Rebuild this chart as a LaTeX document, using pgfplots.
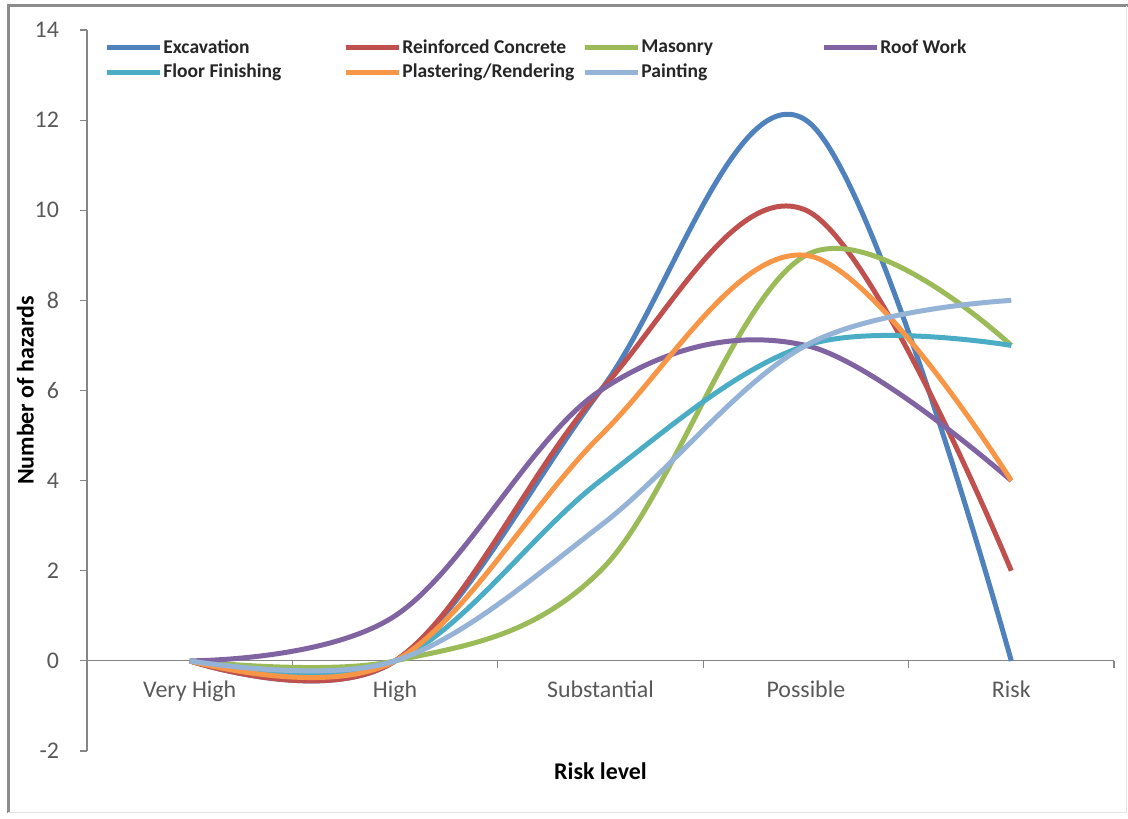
\documentclass[border=0pt]{standalone}
\usepackage{fontspec}
\setmainfont{Carlito}
\usepackage{pgfplots}
\pgfplotsset{compat=1.18}

% series colours
\definecolor{cExc}{HTML}{4F81BD}
\definecolor{cRC}{HTML}{C0504D}
\definecolor{cMas}{HTML}{9BBB59}
\definecolor{cRoof}{HTML}{8064A2}
\definecolor{cFloor}{HTML}{4BACC6}
\definecolor{cPlas}{HTML}{F79646}
\definecolor{cPaint}{HTML}{95B3D7}
\definecolor{axisgray}{HTML}{868686}
\definecolor{tickgray}{HTML}{595959}
\definecolor{framegray}{HTML}{8C8C8C}

\begin{document}
\begin{tikzpicture}
\useasboundingbox (0,0) rectangle (564bp,409.5bp);
% chart frame
\draw[line width=1.5bp, framegray] (4bp,3bp) -- (4bp,406.5bp) -- (564bp,406.5bp);
\draw[line width=0.5bp, gray!20] (563bp,406.5bp) -- (563bp,3bp) -- (4bp,3bp);

\begin{axis}[
  at={(43.5bp,34bp)}, anchor=south west,
  scale only axis, width=513.5bp, height=360.5bp,
  xmin=-0.5, xmax=4.5, ymin=-2, ymax=14,
  axis x line=middle, axis y line=left,
  axis line style={-, draw=axisgray, line width=0.6bp},
  every tick/.style={draw=axisgray, line width=0.6bp},
  major tick length=3.5bp,
  tick align=outside,
  xtick={-0.5,0.5,1.5,2.5,3.5,4.5},
  xticklabels={},
  extra x ticks={0,1,2,3,4},
  extra x tick labels={Very High,High,Substantial,Possible,Risk},
  extra x tick style={major tick length=0pt,
    xticklabel style={yshift=-6.5bp}},
  ytick={-2,0,2,4,6,8,10,12,14},
  /pgf/number format/assume math mode=true,
  ticklabel style={font=\fontsize{12}{14}\selectfont, text=tickgray},
  yticklabel style={anchor=east, xshift=-7bp},
  xlabel={Risk level},
  ylabel={Number of hazards},
  xlabel style={at={(axis description cs:0.5,-0.0277)}, anchor=center,
    font=\fontsize{12}{14}\selectfont\bfseries},
  ylabel style={at={(axis description cs:-0.0600,0.5)}, anchor=center,
    font=\fontsize{12}{14}\selectfont\bfseries},
  every axis plot/.append style={line width=2.5bp, smooth, tension=0.6, no markers},
  legend columns=4,
  legend style={at={(axis description cs:0,1)}, anchor=north west,
    xshift=8.5bp, yshift=-4bp, draw=none, fill=none, inner sep=0pt,
    font=\fontsize{9.8}{11}\selectfont\bfseries, text=black!85,
    nodes={inner sep=0.5bp},
    column sep=0pt, row sep=3bp},
  legend image code/.code={\draw[#1] (0bp,0bp) -- (26.5bp,0bp);},
]
\addplot[cExc] coordinates {(0,0) (1,0) (2,6) (3,12) (4,0)};
\addlegendentry{\makebox[89.5bp][l]{Excavation}}
\addplot[cRC] coordinates {(0,0) (1,0) (2,6) (3,10) (4,2)};
\addlegendentry{\makebox[89.5bp][l]{Reinforced Concrete}}
\addplot[cMas] coordinates {(0,0) (1,0) (2,2) (3,9) (4,7)};
\addlegendentry{\makebox[89.5bp][l]{Masonry}}
\addplot[cRoof] coordinates {(0,0) (1,1) (2,6) (3,7) (4,4)};
\addlegendentry{\makebox[89.5bp][l]{Roof Work}}
\addplot[cFloor] coordinates {(0,0) (1,0) (2,4) (3,7) (4,7)};
\addlegendentry{\makebox[89.5bp][l]{Floor Finishing}}
\addplot[cPlas] coordinates {(0,0) (1,0) (2,5) (3,9) (4,4)};
\addlegendentry{\makebox[89.5bp][l]{Plastering/Rendering}}
\addplot[cPaint] coordinates {(0,0) (1,0) (2,3) (3,7) (4,8)};
\addlegendentry{\makebox[89.5bp][l]{Painting}}
\end{axis}
\end{tikzpicture}
\end{document}
